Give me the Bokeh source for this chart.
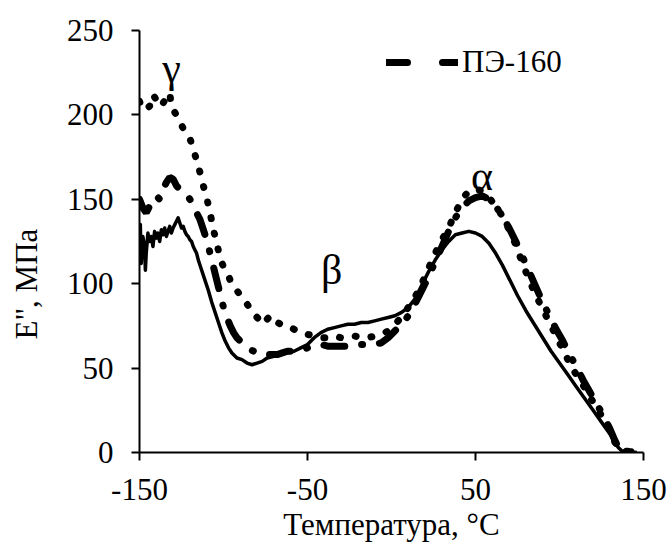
from bokeh.plotting import figure
from bokeh.models import Range1d, FixedTicker, Label, Legend, LegendItem
from bokeh.embed import file_html
from bokeh.resources import INLINE

# Loss modulus E'' (MPa) versus temperature (°C) for three samples
solid_t = [-150, -149.5, -149, -148, -147, -146.5, -146, -145, -144, -143, -142, -141, -140, -139,
           -138, -137, -136, -135, -134, -133, -132, -131, -130, -129, -128, -127, -126, -125,
           -124, -123, -122, -121, -120, -119, -118, -117, -116, -115, -113, -111, -109, -107,
           -105, -103, -101, -99, -97, -95, -92, -89, -86, -83, -80, -77, -74, -70, -66, -62,
           -58, -54, -50, -46, -42, -38, -34, -30, -26, -22, -18, -14, -10, -6, -2, 2, 6, 10,
           14, 18, 22, 26, 30, 34, 38, 42, 46, 50, 54, 58, 62, 66, 70, 75, 80, 85, 90, 95,
           100, 105, 110, 115, 120, 125, 130, 133, 135, 137, 140, 143, 146]
solid_e = [125, 135, 112, 128, 122, 108, 118, 130, 125, 128, 122, 131, 127, 130,
           125, 132, 129, 133, 128, 131, 134, 130, 133, 135, 137, 139, 136, 133,
           134, 131, 129, 128, 126, 125, 122, 120, 118, 114, 108, 102, 96, 89,
           83, 77, 71, 66, 62, 59, 56, 55, 53, 52, 53, 54, 56, 57, 58, 59,
           60, 62, 64, 68, 71, 73, 74, 75, 76, 76, 77, 77, 78, 79, 80, 81, 83, 86,
           91, 99, 107, 114, 120, 125, 129, 130, 131, 130, 128, 124, 118, 111, 103, 93, 84, 76, 68, 60,
           53, 46, 39, 32, 25, 18, 11, 6, 3, 1, 0.5, 0.3, 0]

dot_t = [-150, -148, -146, -144, -142, -140, -138, -136, -134, -132, -131, -130, -128, -126,
         -124, -122, -120, -118, -116, -114, -112, -110, -108, -106, -104, -102, -100, -98,
         -96, -94, -92, -90, -88, -86, -84, -82, -80, -78, -76, -74, -72, -70, -68, -66,
         -64, -62, -60, -58, -56, -54, -50, -46, -42, -38, -34, -30, -26, -22, -18, -14,
         -10, -6, -2, 2, 6, 10, 14, 18, 22, 26, 30, 34, 38, 42, 46, 50, 54, 58, 62, 66,
         70, 74, 78, 82, 86, 90, 94, 98, 102, 106, 110, 114, 118, 122, 126, 130, 133, 135,
         138, 142, 146]
dot_e = [208, 203, 204, 205, 212, 209, 205, 207, 210, 213, 205, 203, 200, 196,
         192, 189, 186, 180, 173, 166, 158, 151, 142, 132, 124, 115, 110, 107,
         102, 98, 96, 93, 90, 88, 85, 82, 80, 78, 76, 79, 81, 80, 77, 76,
         76, 75, 74, 73, 72, 71, 70, 69, 68, 68, 69, 68, 68, 69, 68, 68,
         69, 70, 72, 76, 80, 86, 92, 100, 109, 118, 126, 133, 142, 150, 155, 156, 155, 151, 146, 140,
         132, 123, 112, 102, 93, 85, 77, 69, 61, 53, 46, 40, 33, 27, 20, 13, 6, 3,
         1, 0.5, 0]

pe160_t = [-150, -148, -146, -144, -142, -140, -138, -136, -134, -132, -130, -128, -126, -124,
           -122, -120, -118, -116, -114, -112, -110, -108, -106, -104, -102, -100, -98, -96,
           -94, -92, -90, -88, -86, -84, -82, -80, -77, -74, -71, -68, -65, -62, -59, -56,
           -53, -50, -46, -42, -38, -34, -30, -26, -22, -18, -14, -10, -6, -2, 2, 6, 10, 14,
           18, 22, 26, 30, 34, 38, 42, 46, 50, 54, 58, 62, 66, 70, 74, 78, 82, 86, 90, 94,
           98, 102, 106, 110, 114, 118, 122, 126, 130, 133, 135, 138, 142, 146]
pe160_e = [150, 145, 142, 146, 150, 152, 150, 156, 160, 163, 162, 158, 156, 155,
           153, 150, 147, 142, 138, 132, 126, 118, 110, 102, 94, 86, 80, 75,
           71, 68, 66, 64, 62, 61, 60, 59, 58, 58, 58, 58, 59, 60, 60, 61,
           61, 62, 63, 64, 63, 63, 63, 63, 63, 64, 64, 64, 65, 68, 72, 76, 81, 88,
           96, 104, 113, 122, 131, 139, 145, 149, 151, 152, 150, 146, 140, 133, 125, 116, 107, 98, 89, 81,
           73, 66, 58, 51, 43, 36, 29, 22, 14, 7, 3, 1, 0.5, 0]

x_ticks = [-150, -50, 50, 150]
x_tick_labels = ["-150", "-50", "50", "150"]
y_ticks = [0, 50, 100, 150, 200, 250]
series_name = "ПЭ-160"
peak_labels = ["γ", "β", "α"]

FONT = "Liberation Serif"
FS = "31px"

p = figure(width=670, height=545, output_backend="svg", toolbar_location=None,
           x_range=Range1d(-150, 150), y_range=Range1d(0, 250),
           min_border_left=139, min_border_right=27, min_border_top=30, min_border_bottom=93)
p.outline_line_color = None
p.grid.visible = False
p.background_fill_color = "white"
p.border_fill_color = "white"

for ax in (p.xaxis[0], p.yaxis[0]):
    ax.axis_line_width = 2
    ax.axis_line_color = "black"
    ax.major_tick_line_width = 2
    ax.major_tick_line_color = "black"
    ax.major_tick_in = 0
    ax.major_tick_out = 8
    ax.minor_tick_line_color = None
    ax.major_label_text_font = FONT
    ax.major_label_text_font_size = FS
    ax.major_label_text_color = "black"
    ax.axis_label_text_font = FONT
    ax.axis_label_text_font_size = FS
    ax.axis_label_text_font_style = "normal"
    ax.axis_label_text_color = "black"

p.xaxis.ticker = FixedTicker(ticks=x_ticks)
p.xaxis.major_label_overrides = dict(zip(x_ticks, x_tick_labels))
p.yaxis.ticker = FixedTicker(ticks=y_ticks)
p.xaxis.axis_label = "Температура, °C"
# trailing no-break spaces push the vertical title a little below the axis middle
p.yaxis.axis_label = "E\", МПа" + "\u00a0" * 11
p.yaxis.major_label_standoff = 18
p.yaxis.axis_label_standoff = 20
p.xaxis.major_label_standoff = 18
p.xaxis.axis_label_standoff = 4

p.line(solid_t, solid_e, line_color="black", line_width=3.5, line_join="round")
p.line(dot_t, dot_e, line_color="black", line_width=7, line_dash="1 15", line_cap="round")
p.line(pe160_t, pe160_e, line_color="black", line_width=7, line_dash="21 17 1 17",
       line_cap="round")

# legend sample shown as a plain long dash
proxy = p.line(pe160_t[:1], pe160_e[:1], line_color="black", line_width=7,
               line_dash="21 35", line_cap="round")
legend = Legend(items=[LegendItem(label=series_name, renderers=[proxy])],
                location=(247, 372), padding=0, margin=0, glyph_width=72, glyph_height=30,
                label_standoff=4, border_line_color=None, background_fill_alpha=0,
                label_text_font=FONT, label_text_font_size=FS, label_text_color="black")
p.add_layout(legend)

for txt, lx, ly in zip(peak_labels, [-131, -35.6, 53.8], [228, 108, 164]):
    p.add_layout(Label(x=lx, y=ly, text=txt, text_align="center", text_baseline="middle",
                       text_font=FONT, text_font_size="42px", text_color="black"))

open("out.html", "w").write(file_html(p, INLINE))
